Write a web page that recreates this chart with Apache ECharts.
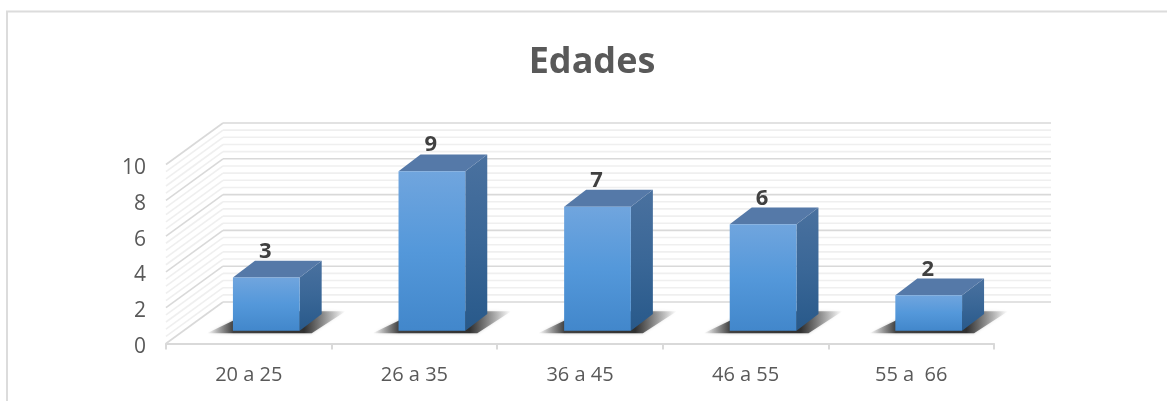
<!DOCTYPE html>
<html><head><meta charset="utf-8">
<style>html,body{margin:0;padding:0;background:#fff}#c{width:1167px;height:401px}</style>
<script src="https://cdn.jsdelivr.net/npm/echarts@6/dist/echarts.min.js"></script>
</head><body><div id="c"></div>
<script>
const categories = ['20 a 25', '26 a 35', '36 a 45', '46 a 55', '55 a  66'];
const values = [3, 9, 7, 6, 2];
const title = 'Edades';
const gridTicks = [0,0.4,0.8,1.2,1.6,2,2.4,2.8,3.2,3.6,4,4.4,4.8,5.2,5.6,6,6.4,6.8,7.2,7.6,8,8.4,8.8,9.2,9.6,10];

const WALL_DX = 57, WALL_DY = -41.5;
const BAR_FRONT_DX = 17.5, BAR_FRONT_DY = -12.8;
const BAR_DX = 22, BAR_DY = -16.8;
const BAR_RATIO = 0.403;
const BAR_PERSPECTIVE = 0.99;

function vgrad(a, b, c) {
  return new echarts.graphic.LinearGradient(0, 0, 0, 1, [
    {offset: 0, color: a}, {offset: 0.5, color: b}, {offset: 1, color: c}]);
}

function renderWall(params, api) {
  const v = api.value(0);
  const p0 = api.coord([0, v]);
  const left = params.coordSys.x, right = params.coordSys.x + params.coordSys.width;
  const major = Math.abs(v / 2 - Math.round(v / 2)) < 1e-6;
  const style = {stroke: major ? '#d9d9d9' : '#efefef', lineWidth: 1.6, fill: null};
  return {type: 'group', silent: true, children: [
    {type: 'line', shape: {x1: left, y1: p0[1], x2: left + WALL_DX, y2: p0[1] + WALL_DY}, style},
    {type: 'line', shape: {x1: left + WALL_DX, y1: p0[1] + WALL_DY, x2: right + WALL_DX, y2: p0[1] + WALL_DY}, style}
  ]};
}

function renderBar(params, api) {
  const idx = api.value(0), val = api.value(1);
  const top = api.coord([idx, val]), base = api.coord([idx, 0]);
  const w = api.size([1, 0])[0] * BAR_RATIO;
  const x0 = base[0] + BAR_FRONT_DX - w / 2, x1 = x0 + w;
  const yB = base[1] + BAR_FRONT_DY, yT = yB - (base[1] - top[1]) * BAR_PERSPECTIVE;
  const sx0 = x0 - 26, sy0 = yB + 2.5, sy1 = yB - 19.5;
  const shadow = new echarts.graphic.LinearGradient(sx0, 0, x1 + 46, 0, [
    {offset: 0, color: 'rgba(90,90,90,0)'},
    {offset: 0.19, color: 'rgba(50,50,50,0.9)'},
    {offset: 0.7, color: 'rgba(40,40,40,0.95)'},
    {offset: 1, color: 'rgba(90,90,90,0)'}], true);
  return {type: 'group', silent: true, children: [
    {type: 'polygon', shape: {points: [[sx0, sy0], [x1 + 12, sy0], [x1 + 46, sy1], [x0 + 10, sy1], [x0, yB - 10]]},
      style: {fill: shadow, shadowBlur: 3, shadowColor: 'rgba(120,120,120,0.5)'}},
    {type: 'polygon', shape: {points: [[x1, yT], [x1 + BAR_DX, yT + BAR_DY], [x1 + BAR_DX, yB + BAR_DY], [x1, yB]]},
      style: {fill: vgrad('#4a719f', '#3a6797', '#28598a')}},
    {type: 'polygon', shape: {points: [[x0, yT], [x0 + BAR_DX, yT + BAR_DY], [x1 + BAR_DX, yT + BAR_DY], [x1, yT]]},
      style: {fill: '#5579a8'}},
    {type: 'rect', shape: {x: x0, y: yT, width: w, height: yB - yT},
      style: {fill: vgrad('#70a5de', '#5498da', '#4287cb')}},
    {type: 'text', x: (x0 + x1) / 2 - 1, y: yT - 26, style: {text: String(val), fontFamily: 'Open Sans', fontWeight: 'bold', fontSize: 22, fill: '#404040', align: 'center', verticalAlign: 'middle'}}
  ]};
}

const chart = echarts.init(document.getElementById('c'), null, {renderer: 'canvas'});
chart.setOption({
  animation: false,
  backgroundColor: '#fff',
  title: {text: title, left: 587, top: 40, textAlign: 'center',
    textStyle: {fontFamily: 'Open Sans', fontSize: 36, fontWeight: 'bold', color: '#595959'}},
  graphic: [{type: 'polyline', silent: true, shape: {points: [[7, 401], [7, 11.5], [1167, 11.5]]},
    style: {stroke: '#dcdcdc', lineWidth: 2, fill: null}}],
  grid: {left: 166, top: 164.5, width: 828, height: 179},
  xAxis: {type: 'category', data: categories,
    axisLine: {lineStyle: {color: '#d9d9d9', width: 2}},
    axisTick: {show: true, alignWithLabel: false, length: 6, lineStyle: {color: '#d9d9d9', width: 2}},
    axisLabel: {color: '#595959', fontFamily: 'Open Sans', fontSize: 20, margin: 22}},
  yAxis: {type: 'value', min: 0, max: 10, interval: 2,
    axisLine: {show: false}, axisTick: {show: false}, splitLine: {show: false},
    axisLabel: {margin: 20, formatter: v => '{n|' + v + '}',
      rich: {n: {color: '#595959', fontFamily: 'Open Sans', fontSize: 21, padding: [7, 0, 0, 0]}}}},
  series: [
    {type: 'custom', name: 'pared', coordinateSystem: 'cartesian2d', renderItem: renderWall, clip: false, z: 1,
      data: gridTicks.map(v => [v]), encode: {y: 0}, tooltip: {show: false}},
    {type: 'custom', name: 'Edades', coordinateSystem: 'cartesian2d', renderItem: renderBar, clip: false, z: 2,
      data: values.map((v, i) => [i, v]), encode: {x: 0, y: 1}}
  ]
});
</script></body></html>
